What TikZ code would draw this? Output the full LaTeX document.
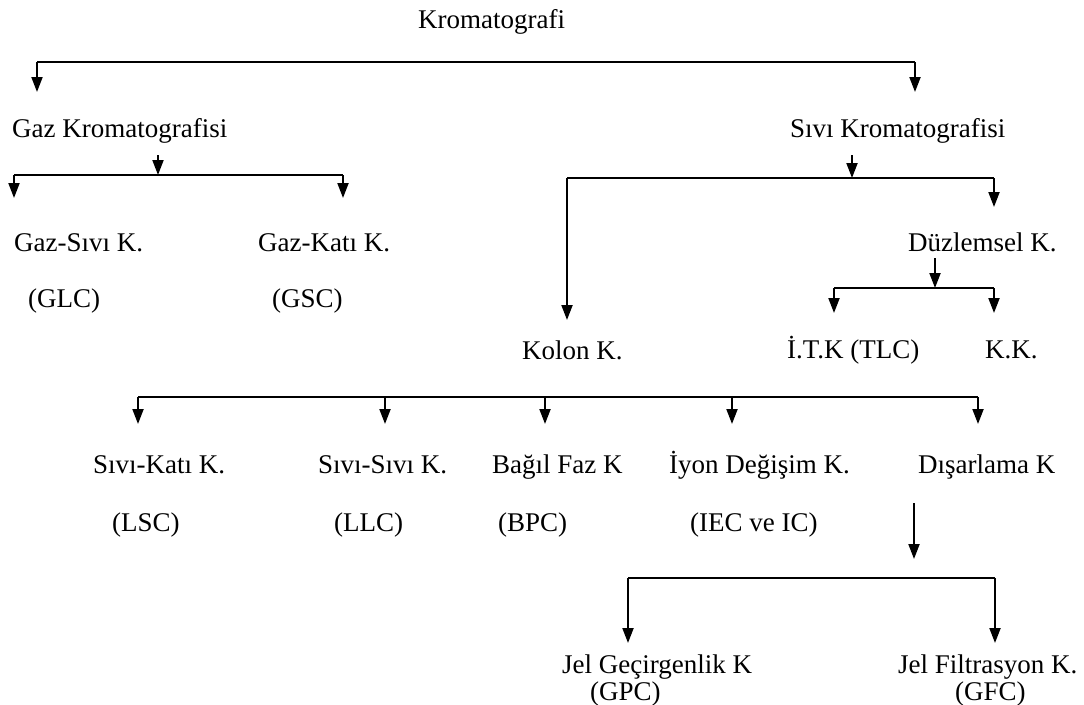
\documentclass[tikz,border=0pt]{standalone}
\usepackage{fontspec}
\setmainfont{Liberation Serif}
\usetikzlibrary{arrows.meta}
\begin{document}
\begin{tikzpicture}[x=1pt,y=-1pt,
  lbl/.style={inner sep=0pt, anchor=base west, font=\fontsize{27}{32}\selectfont},
  conn/.style={line width=2pt},
  arr/.style={conn,-{Triangle[length=15pt,width=11pt]}}]
\useasboundingbox[fill=white] (0,0) rectangle (1084,704);
% texts
\node[lbl] (krom) at (418,28) {Kromatografi};
\node[lbl] (gaz) at (12,137) {Gaz Kromatografisi};
\node[lbl] (sivi) at (790,137) {Sıvı Kromatografisi};
\node[lbl] (gs) at (14,251) {Gaz-Sıvı K.};
\node[lbl] (gk) at (258,251) {Gaz-Katı K.};
\node[lbl] (glc) at (28,307) {(GLC)};
\node[lbl] (gsc) at (272,307) {(GSC)};
\node[lbl] (duz) at (908,251) {Düzlemsel K.};
\node[lbl] (itk) at (787,358) {İ.T.K (TLC)};
\node[lbl] (kk) at (985,358) {K.K.};
\node[lbl] (kolon) at (522,359) {Kolon K.};
\node[lbl] (sk) at (93,473) {Sıvı-Katı K.};
\node[lbl] (ss) at (318,473) {Sıvı-Sıvı K.};
\node[lbl] (bf) at (492,473) {Bağıl Faz K};
\node[lbl] (iy) at (669,473) {İyon Değişim K.};
\node[lbl] (dis) at (918,473) {Dışarlama K};
\node[lbl] (lsc) at (112,531) {(LSC)};
\node[lbl] (llc) at (334,531) {(LLC)};
\node[lbl] (bpc) at (498,531) {(BPC)};
\node[lbl] (iec) at (690,531) {(IEC ve IC)};
\node[lbl] (jg) at (562,673) {Jel Geçirgenlik K};
\node[lbl] (jf) at (898,673) {Jel Filtrasyon K.};
\node[lbl] (gpc) at (590,700) {(GPC)};
\node[lbl] (gfc) at (955,700) {(GFC)};
% junction coordinates
\coordinate (k1) at (37,62);   \coordinate (k2) at (915,62);
\coordinate (k1t) at (37,92);  \coordinate (k2t) at (915,92);
\coordinate (g0) at (158,155); \coordinate (gm) at (158,175);
\coordinate (g1) at (14,175);  \coordinate (g2) at (343,175);
\coordinate (g1t) at (14,198); \coordinate (g2t) at (343,198);
\coordinate (s0) at (852,155); \coordinate (sm) at (852,178);
\coordinate (s1) at (567,178); \coordinate (s2) at (994,178);
\coordinate (s1t) at (567,320); \coordinate (s2t) at (994,207);
\coordinate (d0) at (935,258); \coordinate (dm) at (935,288);
\coordinate (d1) at (834,288); \coordinate (d2) at (994,288);
\coordinate (d1t) at (834,313); \coordinate (d2t) at (994,313);
\coordinate (c1) at (138,397); \coordinate (c2) at (385,397);
\coordinate (c3) at (545,397); \coordinate (c4) at (732,397);
\coordinate (c5) at (978,397);
\coordinate (c1t) at (138,424); \coordinate (c2t) at (385,424);
\coordinate (c3t) at (545,424); \coordinate (c4t) at (732,424);
\coordinate (c5t) at (978,424);
\coordinate (x0) at (914,503); \coordinate (x0t) at (914,559);
\coordinate (x1) at (628,578); \coordinate (x2) at (995,578);
\coordinate (x1t) at (628,643); \coordinate (x2t) at (995,643);
% connectors
\draw[conn] (k1) -- (k2);
\draw[arr] (k1) -- (k1t);
\draw[arr] (k2) -- (k2t);
\draw[arr] (g0) -- (gm);
\draw[conn] (g1) -- (g2);
\draw[arr] (g1) -- (g1t);
\draw[arr] (g2) -- (g2t);
\draw[arr] (s0) -- (sm);
\draw[conn] (s1) -- (s2);
\draw[arr] (s1) -- (s1t);
\draw[arr] (s2) -- (s2t);
\draw[arr] (d0) -- (dm);
\draw[conn] (d1) -- (d2);
\draw[arr] (d1) -- (d1t);
\draw[arr] (d2) -- (d2t);
\draw[conn] (c1) -- (c5);
\foreach \i in {1,...,5} {\draw[arr] (c\i) -- (c\i t);}
\draw[arr] (x0) -- (x0t);
\draw[conn] (x1) -- (x2);
\draw[arr] (x1) -- (x1t);
\draw[arr] (x2) -- (x2t);
\end{tikzpicture}
\end{document}
